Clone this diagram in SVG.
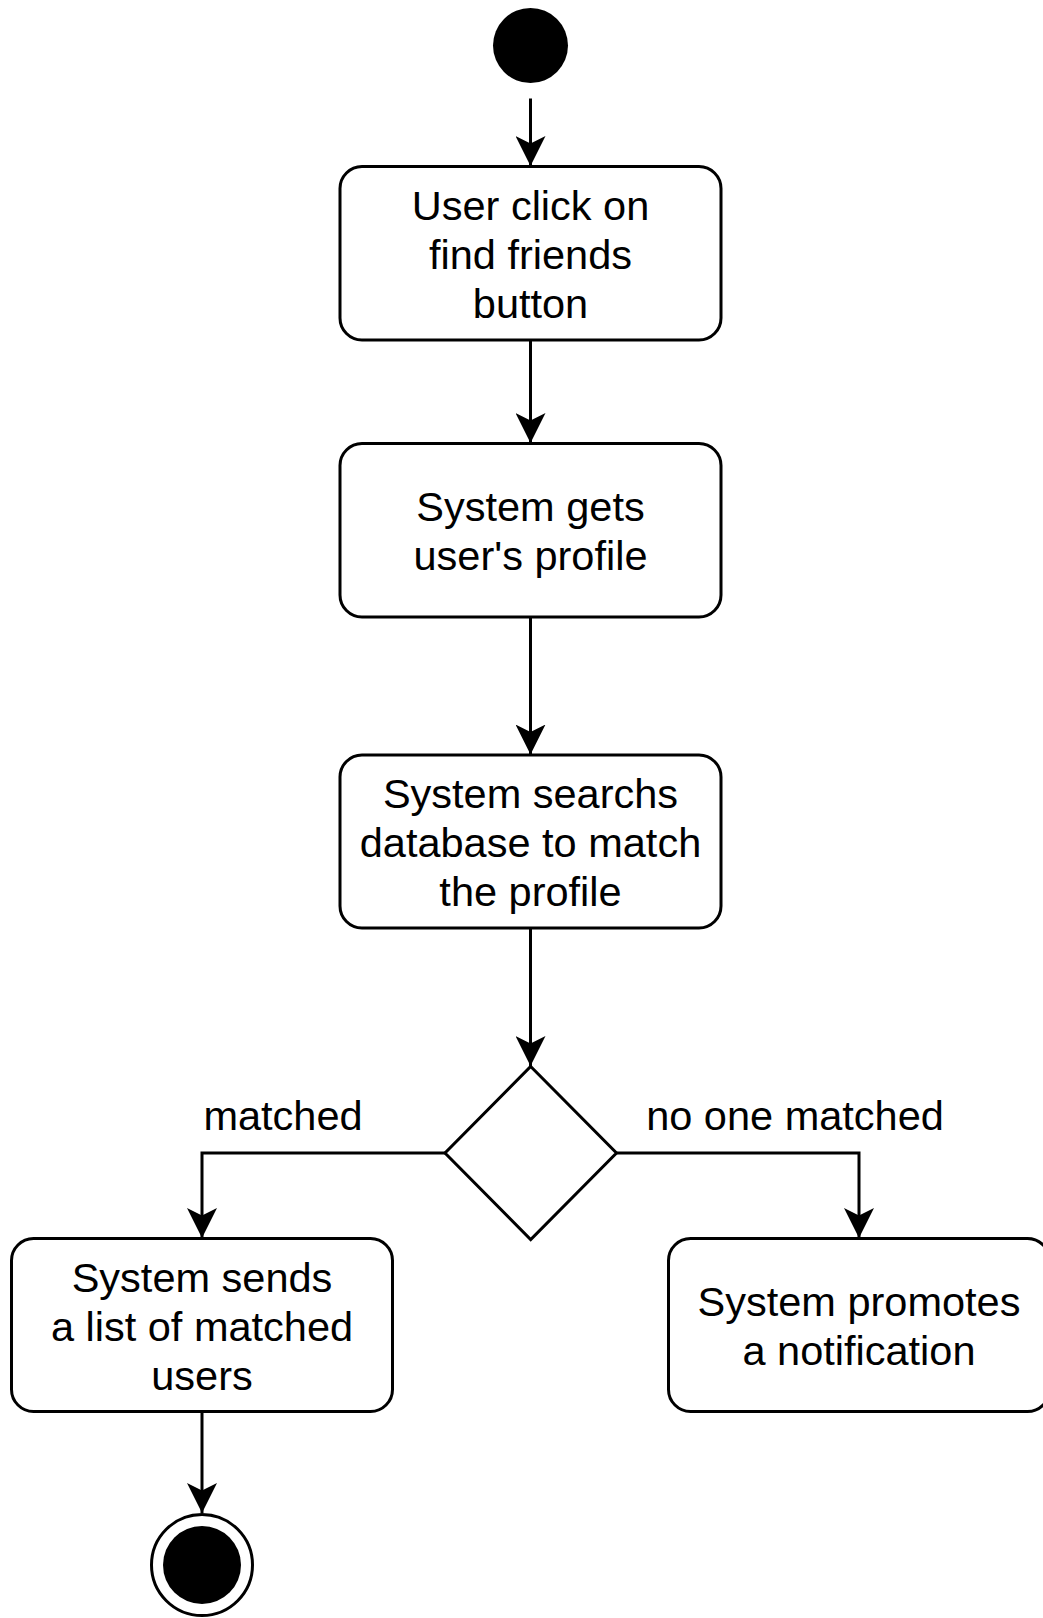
<svg xmlns="http://www.w3.org/2000/svg" width="1043" height="1618" viewBox="0 0 1043 1618">
  <style>
    .node { fill: #ffffff; stroke: #000000; stroke-width: 3; }
    .edge { fill: none; stroke: #000000; stroke-width: 3; }
    .label { font-family: "Liberation Sans", Arial, sans-serif; font-size: 41.5px; fill: #000000; text-anchor: middle; }
  </style>
  <defs>
    <!-- classic arrowhead: tip at the end point, notched back -->
    <marker id="arrow" markerUnits="userSpaceOnUse" viewBox="0 0 30 30" markerWidth="30" markerHeight="30" refX="30" refY="15" orient="auto">
      <path d="M30,15 L0,0 L7.5,15 L0,30 Z" fill="#000000"/>
    </marker>
  </defs>

  <!-- connectors -->
  <g id="edges">
    <path class="edge" d="M530.5,98.5 V166" marker-end="url(#arrow)"/>
    <path class="edge" d="M530.5,340 V443" marker-end="url(#arrow)"/>
    <path class="edge" d="M530.5,617 V754.5" marker-end="url(#arrow)"/>
    <path class="edge" d="M530.5,928 V1066" marker-end="url(#arrow)"/>
    <path class="edge" d="M445,1153 H202 V1238" marker-end="url(#arrow)"/>
    <path class="edge" d="M616.5,1153 H859 V1238" marker-end="url(#arrow)"/>
    <path class="edge" d="M202,1411.5 V1513" marker-end="url(#arrow)"/>
    <text class="label" x="283" y="1130">matched</text>
    <text class="label" x="795" y="1130">no one matched</text>
  </g>

  <!-- initial state -->
  <g id="start">
    <circle cx="530.5" cy="45.5" r="37.5" fill="#000000"/>
  </g>

  <g id="click-find-friends">
    <rect class="node" x="340" y="166.5" width="381" height="173.5" rx="22" ry="22"/>
    <text class="label" x="530.5" y="219.5">User click on</text>
    <text class="label" x="530.5" y="268.5">find friends</text>
    <text class="label" x="530.5" y="317.5">button</text>
  </g>

  <g id="get-profile">
    <rect class="node" x="340" y="443.5" width="381" height="173.5" rx="22" ry="22"/>
    <text class="label" x="530.5" y="520.5">System gets</text>
    <text class="label" x="530.5" y="569.5">user's profile</text>
  </g>

  <g id="search-database">
    <rect class="node" x="340" y="755" width="381" height="173" rx="22" ry="22"/>
    <text class="label" x="530.5" y="808">System searchs</text>
    <text class="label" x="530.5" y="857">database to match</text>
    <text class="label" x="530.5" y="906">the profile</text>
  </g>

  <g id="decision">
    <polygon class="node" points="530.7,1066.5 616.5,1153 530.7,1239.5 445,1153"/>
  </g>

  <g id="send-list">
    <rect class="node" x="11.5" y="1238.5" width="381" height="173" rx="22" ry="22"/>
    <text class="label" x="202" y="1291.5">System sends</text>
    <text class="label" x="202" y="1340.5">a list of matched</text>
    <text class="label" x="202" y="1389.5">users</text>
  </g>

  <g id="promote-notification">
    <rect class="node" x="668.5" y="1238.5" width="381" height="173" rx="22" ry="22"/>
    <text class="label" x="859" y="1316">System promotes</text>
    <text class="label" x="859" y="1365">a notification</text>
  </g>

  <!-- final state -->
  <g id="end">
    <circle cx="202" cy="1565" r="50.5" fill="#ffffff" stroke="#000000" stroke-width="3"/>
    <circle cx="202" cy="1565" r="39" fill="#000000"/>
  </g>
</svg>
